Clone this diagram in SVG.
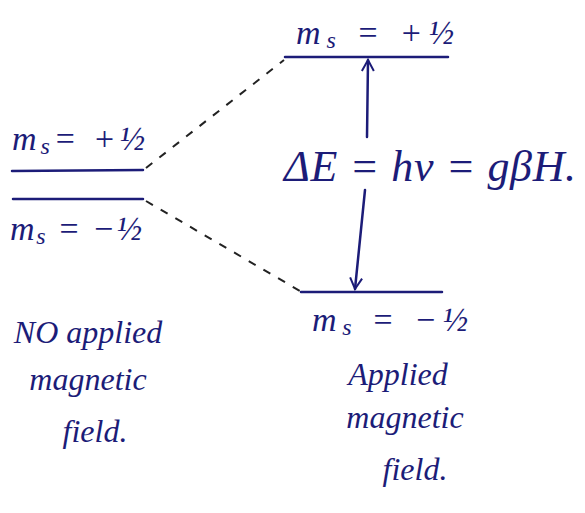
<svg xmlns="http://www.w3.org/2000/svg" width="585" height="513" viewBox="0 0 585 513">
<style>
.ink{stroke:#1c1c78;stroke-width:2.5;fill:none;stroke-linecap:round}
.dash{stroke:#222;stroke-width:2;fill:none;stroke-dasharray:8 9}
text{font-family:"Liberation Serif","DejaVu Serif",serif;font-style:italic;fill:#1c1c78}
.lbl{font-size:34px}
.big{font-size:44px}
.note{font-size:32px;text-anchor:middle}
</style>
<defs>
<marker id="ah" viewBox="0 0 14 14" refX="12" refY="7" markerWidth="14" markerHeight="14" markerUnits="userSpaceOnUse" orient="auto">
<path d="M1 1 L12 7 L1 13" stroke="#1c1c78" stroke-width="2" fill="none"/>
</marker>
</defs>
<rect width="585" height="513" fill="#fff"/>
<g id="connectors">
<path class="dash" d="M146 168 L284 60"/>
<path class="dash" d="M146 201 L300 291"/>
<path class="ink" d="M367 137 L368 60" marker-end="url(#ah)"/>
<path class="ink" d="M365 190 L355 289" marker-end="url(#ah)"/>
</g>
<g id="left-upper">
<path class="ink" d="M12 171 L143 170"/>
<text class="lbl" x="12" y="150" textLength="133" lengthAdjust="spacing">m<tspan font-size="24" dy="4">s</tspan><tspan dy="-4">= +½</tspan></text>
</g>
<g id="left-lower">
<path class="ink" d="M13 199 L143 199"/>
<text class="lbl" x="10" y="240" textLength="132" lengthAdjust="spacing">m<tspan font-size="24" dy="4">s</tspan><tspan dy="-4"> = −½</tspan></text>
</g>
<g id="right-upper">
<path class="ink" d="M285 57 L448 57"/>
<text class="lbl" x="296" y="44" textLength="158" lengthAdjust="spacing">m<tspan font-size="24" dy="4">s</tspan><tspan dy="-4"> = +½</tspan></text>
</g>
<g id="right-lower">
<path class="ink" d="M301 292 L442 292"/>
<text class="lbl" x="312" y="331" textLength="156" lengthAdjust="spacing">m<tspan font-size="24" dy="4">s</tspan><tspan dy="-4"> = −½</tspan></text>
</g>
<g id="equation">
<text class="big" x="284" y="181" textLength="292" lengthAdjust="spacing">ΔE = hν = gβH.</text>
</g>
<g id="no-field">
<text class="note" x="88" y="343">NO applied</text>
<text class="note" x="88" y="390">magnetic</text>
<text class="note" x="95" y="442">field.</text>
</g>
<g id="field">
<text class="note" x="398" y="385">Applied</text>
<text class="note" x="405" y="428">magnetic</text>
<text class="note" x="415" y="480">field.</text>
</g>
</svg>
